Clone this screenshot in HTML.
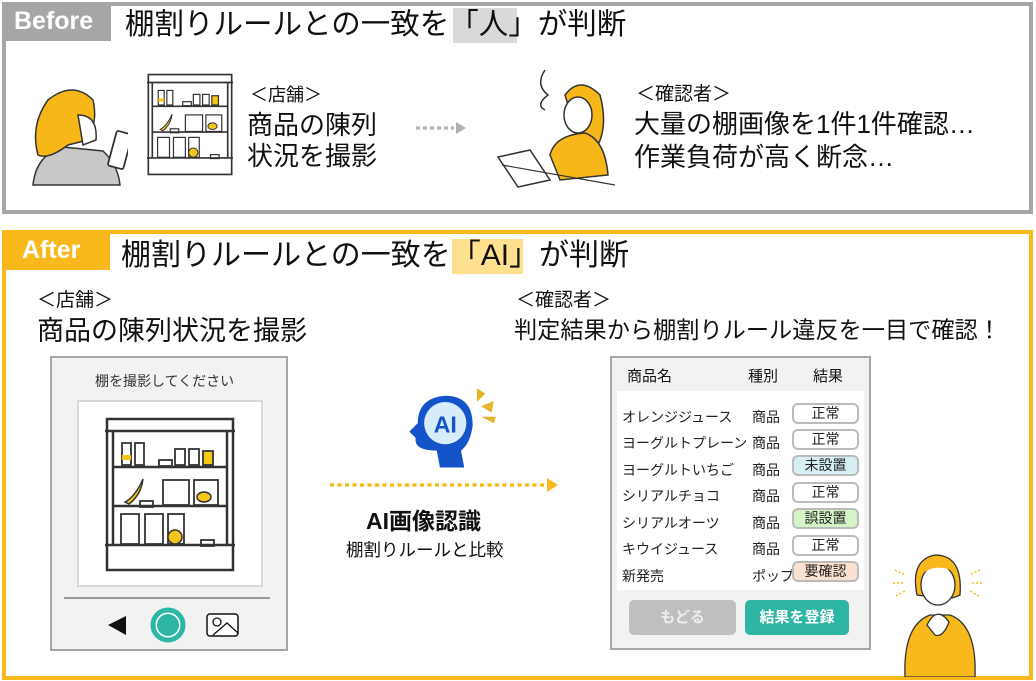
<!DOCTYPE html>
<html><head><meta charset="utf-8"><style>
*{margin:0;padding:0;box-sizing:border-box}
body{width:1036px;height:681px;background:#fff;position:relative;overflow:hidden;font-family:"Liberation Sans","Noto Sans CJK JP",sans-serif;color:#111}
.a{position:absolute;white-space:nowrap;line-height:1}
.box{position:absolute}
.badge{position:absolute;left:792px;width:67px;height:21px;border:2px solid #bbb;border-radius:6px;background:#fff;font-size:14px;text-align:center;line-height:17px;color:#222}
.nm{position:absolute;left:622px;font-size:14px;color:#222}
.tp{position:absolute;left:752px;font-size:14px;color:#222}
</style></head><body>
<svg width="0" height="0" style="position:absolute"><defs>
<symbol id="shelf" viewBox="0 0 130 155">
<g fill="none" stroke="#333" stroke-width="2.5">
<rect x="2" y="2" width="126" height="151" fill="#fff"/>
<line x1="0" y1="14" x2="130" y2="14"/><line x1="8" y1="14" x2="8" y2="128"/><line x1="122" y1="14" x2="122" y2="128"/>
<line x1="8" y1="50" x2="122" y2="50"/><line x1="8" y1="89" x2="122" y2="89"/><line x1="0" y1="128" x2="130" y2="128"/>
<g stroke-width="1.8"><rect x="17" y="26" width="9" height="22"/><rect x="30" y="26" width="9" height="22"/>
<rect x="70" y="32" width="10" height="16"/><rect x="84" y="32" width="10" height="16"/>
<rect x="54" y="43" width="13" height="6"/><rect x="35" y="84" width="13" height="6"/><rect x="96" y="123" width="13" height="6"/>
<rect x="58" y="63" width="26" height="25"/><rect x="89" y="63" width="24" height="25"/>
<rect x="16" y="97" width="18" height="30"/><rect x="40" y="97" width="18" height="30"/><rect x="63" y="97" width="16" height="30"/></g>
</g>
<rect x="17" y="38" width="9" height="5" fill="#f5c518"/><rect x="98" y="34" width="10" height="14" fill="#f5c518" stroke="#333" stroke-width="1.8"/>
<path d="M20 85 Q30 80 38 62 Q36 78 24 87Z" fill="#f5c518" stroke="#333" stroke-width="1.5"/>
<ellipse cx="99" cy="80" rx="7" ry="5" fill="#f5c518" stroke="#333" stroke-width="1.5"/>
<circle cx="70" cy="120" r="7" fill="#f5c518" stroke="#333" stroke-width="1.5"/>
</symbol></defs></svg>

<!-- BEFORE -->
<div class="box" style="left:2px;top:2px;width:1031px;height:212px;border:4px solid #a6a6a6"></div>
<div class="box" style="left:4px;top:4px;width:107px;height:37px;background:#a6a6a6"></div>
<div class="a" style="left:14px;top:9px;font-size:25px;font-weight:bold;color:#fff">Before</div>
<div class="box" style="left:453px;top:8px;width:64px;height:35px;background:#d9d9d9"></div>
<div class="a" style="left:125px;top:10px;font-size:29.5px">棚割りルールとの一致を「人」が判断</div>

<svg class="box" style="left:28px;top:85px" width="100" height="105" viewBox="0 0 100 105">
<path d="M5 100 Q8 70 35 62 L75 66 Q90 80 92 100Z" fill="#c8c8c8" stroke="#333" stroke-width="1.5"/>
<path d="M10 70 Q2 40 20 15 Q45 -5 65 15 Q70 35 60 55 L40 60 Q20 75 10 70Z" fill="#f7b718" stroke="#333" stroke-width="1.5"/>
<path d="M50 30 Q70 30 68 55 L55 60Z" fill="#fff" stroke="#333" stroke-width="1.5"/>
<rect x="84" y="47" width="16" height="36" rx="2" transform="rotate(15 92 65)" fill="#fff" stroke="#333" stroke-width="1.8"/>
</svg>
<svg class="box" style="left:147px;top:72px" width="86" height="105"><use href="#shelf" width="86" height="105"/></svg>
<div class="a" style="left:250px;top:86px;font-size:18px">＜店舗＞</div>
<div class="a" style="left:247px;top:112px;font-size:26px">商品の陳列</div>
<div class="a" style="left:247px;top:143px;font-size:26px">状況を撮影</div>
<svg class="box" style="left:414px;top:120px" width="54" height="16"><line x1="2" y1="8" x2="40" y2="8" stroke="#b0b0b0" stroke-width="3" stroke-dasharray="4 3"/><path d="M42 2 L52 8 L42 14Z" fill="#b0b0b0"/></svg>
<svg class="box" style="left:490px;top:65px" width="125" height="125" viewBox="0 0 125 125">
<path d="M55 5 Q45 20 58 30 Q45 40 55 45" fill="none" stroke="#333" stroke-width="1.5"/>
<path d="M75 30 Q90 10 110 30 Q118 60 108 80 L90 78Z" fill="#f7b718" stroke="#333" stroke-width="1.5"/>
<ellipse cx="88" cy="50" rx="14" ry="18" fill="#fff" stroke="#333" stroke-width="1.5"/>
<path d="M60 90 Q65 70 95 68 Q115 75 118 110 L70 115Z" fill="#f7b718" stroke="#333" stroke-width="1.5"/>
<path d="M8 92 L40 85 L60 115 L28 122Z" fill="#fff" stroke="#333" stroke-width="1.5"/>
<line x1="12" y1="100" x2="125" y2="120" stroke="#333" stroke-width="1.2"/>
</svg>
<div class="a" style="left:636px;top:85px;font-size:19px">＜確認者＞</div>
<div class="a" style="left:634px;top:111px;font-size:26px">大量の棚画像を1件1件確認…</div>
<div class="a" style="left:634px;top:144px;font-size:26px">作業負荷が高く断念…</div>

<!-- AFTER -->
<div class="box" style="left:2px;top:230px;width:1031px;height:450px;border:4px solid #f9b81c"></div>
<div class="box" style="left:4px;top:232px;width:106px;height:38px;background:#f9b81c"></div>
<div class="a" style="left:22px;top:238px;font-size:25px;font-weight:bold;color:#fff">After</div>
<div class="box" style="left:452px;top:239px;width:71px;height:35px;background:#ffe08f"></div>
<div class="a" style="left:121px;top:241px;font-size:30px">棚割りルールとの一致を「AI」が判断</div>

<div class="a" style="left:37px;top:291px;font-size:19px">＜店舗＞</div>
<div class="a" style="left:37px;top:318px;font-size:27px">商品の陳列状況を撮影</div>
<div class="a" style="left:516px;top:291px;font-size:19px">＜確認者＞</div>
<div class="a" style="left:514px;top:319px;font-size:23.2px">判定結果から棚割りルール違反を一目で確認！</div>

<!-- phone -->
<div class="box" style="left:50px;top:356px;width:238px;height:295px;background:#f2f2f2;border:2px solid #a6a6a6"></div>
<div class="a" style="left:95px;top:374px;font-size:14px;color:#333">棚を撮影してください</div>
<div class="box" style="left:77px;top:400px;width:186px;height:187px;background:#fff;border:2px solid #d9d9d9"></div>
<svg class="box" style="left:105px;top:417px" width="130" height="155"><use href="#shelf" width="130" height="155"/></svg>
<div class="box" style="left:64px;top:597px;width:206px;height:2px;background:#999"></div>
<svg class="box" style="left:100px;top:605px" width="145" height="40">
<path d="M8 20 L26 11 L26 30Z" fill="#111"/>
<circle cx="68" cy="20" r="15" fill="#fff" stroke="#2eb5a3" stroke-width="5"/><circle cx="68" cy="20" r="11" fill="#2eb5a3"/>
<rect x="107" y="9" width="31" height="22" rx="3" fill="#fff" stroke="#111" stroke-width="1.5"/>
<circle cx="117" cy="17" r="4" fill="none" stroke="#111" stroke-width="1.3"/><path d="M113 30 L127 18 L138 28" fill="none" stroke="#111" stroke-width="1.3"/>
</svg>

<!-- AI icon -->
<svg class="box" style="left:403px;top:385px" width="95" height="90" viewBox="0 0 90 85">
<path d="M35 78 L32 62 Q10 62 12 50 L6 44 L14 36 Q14 12 40 10 Q66 10 66 38 Q64 55 55 62 L58 78Z" fill="#1554c8"/>
<circle cx="40" cy="36" r="20" fill="#d6ecfb"/>
<text x="40" y="45" font-size="22" font-weight="bold" fill="#1554c8" text-anchor="middle" font-family="Liberation Sans,sans-serif">AI</text>
<path d="M70 3 L78 8 L70 16Z M74 20 L86 15 L84 26Z M74 30 L88 30 L86 36Z" fill="#e4b42a"/>
</svg>
<svg class="box" style="left:328px;top:477px" width="232" height="16"><line x1="2" y1="8" x2="222" y2="8" stroke="#f9b81c" stroke-width="3.5" stroke-dasharray="4 3.5"/><path d="M219 1 L230 8 L219 15Z" fill="#f9b81c"/></svg>
<div class="a" style="left:366px;top:510px;font-size:23px;font-weight:bold">AI画像認識</div>
<div class="a" style="left:346px;top:542px;font-size:17.5px">棚割りルールと比較</div>

<!-- result panel -->
<div class="box" style="left:610px;top:356px;width:261px;height:294px;background:#f2f2f2;border:2px solid #a6a6a6"></div>
<div class="a" style="left:627px;top:369px;font-size:15px">商品名</div>
<div class="a" style="left:748px;top:369px;font-size:15px">種別</div>
<div class="a" style="left:813px;top:369px;font-size:15px">結果</div>
<div class="box" style="left:617px;top:391px;width:247px;height:199px;background:#fff"></div>
<div class="nm" style="top:407px">オレンジジュース</div><div class="tp" style="top:407px">商品</div><div class="badge" style="top:403px">正常</div>
<div class="nm" style="top:433px">ヨーグルトプレーン</div><div class="tp" style="top:433px">商品</div><div class="badge" style="top:429px">正常</div>
<div class="nm" style="top:460px">ヨーグルトいちご</div><div class="tp" style="top:460px">商品</div><div class="badge" style="top:455px;background:#d6eff5">未設置</div>
<div class="nm" style="top:486px">シリアルチョコ</div><div class="tp" style="top:486px">商品</div><div class="badge" style="top:482px">正常</div>
<div class="nm" style="top:513px">シリアルオーツ</div><div class="tp" style="top:513px">商品</div><div class="badge" style="top:508px;background:#d4f3c6">誤設置</div>
<div class="nm" style="top:539px">キウイジュース</div><div class="tp" style="top:539px">商品</div><div class="badge" style="top:535px">正常</div>
<div class="nm" style="top:566px">新発売</div><div class="tp" style="top:566px">ポップ</div><div class="badge" style="top:561px;background:#fbe1cf">要確認</div>
<div class="box" style="left:629px;top:600px;width:107px;height:35px;background:#bfbfbf;border-radius:5px;color:#eee;font-size:15px;text-align:center;line-height:35px;font-weight:bold">もどる</div>
<div class="box" style="left:745px;top:600px;width:104px;height:35px;background:#2eb5a3;border-radius:5px;color:#fff;font-size:15px;text-align:center;line-height:35px;font-weight:bold">結果を登録</div>

<!-- happy woman -->
<svg class="box" style="left:885px;top:540px" width="115" height="137" viewBox="0 0 115 137">
<g stroke="#f9b81c" stroke-width="1.5" stroke-dasharray="2 2"><line x1="10" y1="30" x2="20" y2="35"/><line x1="8" y1="43" x2="19" y2="43"/><line x1="11" y1="56" x2="20" y2="51"/><line x1="95" y1="30" x2="85" y2="35"/><line x1="97" y1="43" x2="86" y2="43"/><line x1="94" y1="56" x2="85" y2="51"/></g>
<path d="M20 137 Q18 85 45 75 L65 75 Q92 85 90 137Z" fill="#f9b81c" stroke="#333" stroke-width="1.3"/>
<path d="M32 55 Q25 20 50 15 Q78 15 75 55 Q65 60 55 58Z" fill="#f9b81c" stroke="#333" stroke-width="1.3"/>
<ellipse cx="53" cy="45" rx="17" ry="20" fill="#fff" stroke="#333" stroke-width="1.3"/>
<path d="M36 35 Q50 22 70 32 Q68 20 52 18 Q38 20 36 35Z" fill="#f9b81c"/>
<path d="M42 85 Q52 65 64 82 Q58 98 50 95Z" fill="#fff" stroke="#333" stroke-width="1.3"/>
</svg>
</body></html>
